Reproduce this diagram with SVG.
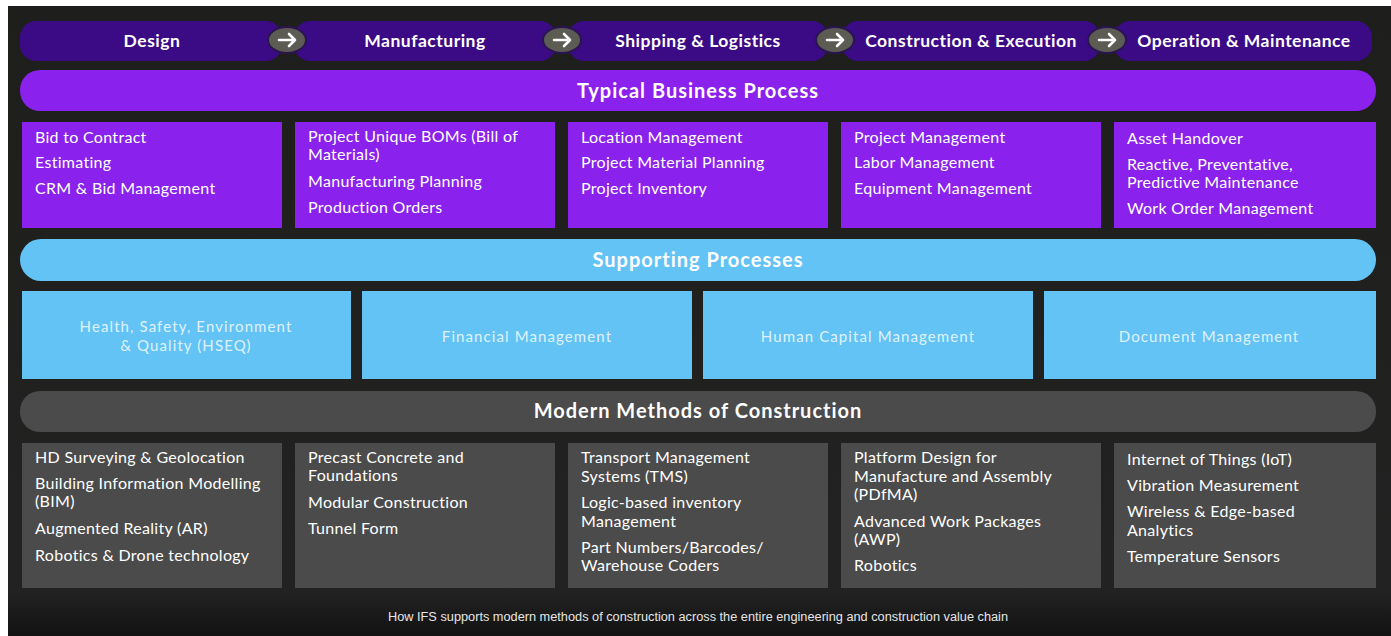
<svg xmlns="http://www.w3.org/2000/svg" width="1391" height="636" viewBox="0 0 1391 636">
  <defs>
    <linearGradient id="bg" x1="0" y1="0" x2="0" y2="1">
      <stop offset="0" stop-color="#1e1e1c"/>
      <stop offset="0.93" stop-color="#222222"/>
      <stop offset="1" stop-color="#121212"/>
    </linearGradient>
    <style>
      .stage { fill: #3a0b84; }
      .stage-t { font-family: "Lato", "Liberation Sans", sans-serif; font-weight: 700; font-size: 17.5px; letter-spacing: 0.5px; fill: #ffffff; text-anchor: middle; }
      .band-t { font-family: "Lato", "Liberation Sans", sans-serif; font-weight: 700; font-size: 20px; letter-spacing: 1px; fill: #ffffff; text-anchor: middle; }
      .purple { fill: #8a21ec; }
      .blue { fill: #63c3f5; }
      .grey { fill: #4b4b4b; }
      .item { font-family: "Lato", "Liberation Sans", sans-serif; font-weight: 400; font-size: 16px; letter-spacing: 0.3px; fill: #ffffff; }
      .item-blue { font-family: "Lato", "Liberation Sans", sans-serif; font-size: 15px; letter-spacing: 1.1px; fill: #ffffff; fill-opacity: 0.8; text-anchor: middle; }
      .caption { font-family: "Liberation Sans", sans-serif; font-size: 12px; fill: #e6e6e6; }
      .arrow-bg { fill: #5c5c54; stroke: #2a1550; stroke-width: 2; }
      .arrow { fill: none; stroke: #ffffff; stroke-width: 2.6; stroke-linecap: round; stroke-linejoin: round; }
    </style>
  </defs>

  <!-- page and dark canvas -->
  <rect x="0" y="0" width="1391" height="636" fill="#ffffff"/>
  <rect x="8" y="6" width="1383" height="630" fill="url(#bg)"/>

  <!-- value chain stages -->
  <g id="stage-design"><rect class="stage" x="20" y="21" width="262" height="40" rx="16"/><text class="stage-t" x="152" y="47">Design</text></g>
  <g id="stage-manufacturing"><rect class="stage" x="294" y="21" width="262" height="40" rx="16"/><text class="stage-t" x="425" y="47">Manufacturing</text></g>
  <g id="stage-shipping"><rect class="stage" x="568" y="21" width="260" height="40" rx="16"/><text class="stage-t" x="698" y="47">Shipping &amp; Logistics</text></g>
  <g id="stage-construction"><rect class="stage" x="842" y="21" width="258" height="40" rx="16"/><text class="stage-t" x="971" y="47">Construction &amp; Execution</text></g>
  <g id="stage-operation"><rect class="stage" x="1114" y="21" width="258" height="40" rx="16"/><text class="stage-t" x="1244" y="47">Operation &amp; Maintenance</text></g>

  <!-- arrows between stages -->
  <g id="connectors">
    <ellipse class="arrow-bg" cx="287" cy="40" rx="19" ry="13"/>
    <path class="arrow" d="M279 40 H295 M289 34 L295 40 L289 46"/>
    <ellipse class="arrow-bg" cx="562" cy="40" rx="19" ry="13"/>
    <path class="arrow" d="M554 40 H570 M564 34 L570 40 L564 46"/>
    <ellipse class="arrow-bg" cx="835" cy="40" rx="19" ry="13"/>
    <path class="arrow" d="M827 40 H843 M837 34 L843 40 L837 46"/>
    <ellipse class="arrow-bg" cx="1107" cy="40" rx="19" ry="13"/>
    <path class="arrow" d="M1099 40 H1115 M1109 34 L1115 40 L1109 46"/>
  </g>

  <!-- Typical Business Process -->
  <g id="band-business"><rect class="purple" x="20" y="70" width="1356" height="41" rx="20"/><text class="band-t" x="698" y="98">Typical Business Process</text></g>

  <g id="bp-design"><rect class="purple" x="22" y="122" width="260" height="106"/>
    <text class="item" x="35" y="143">Bid to Contract</text>
    <text class="item" x="35" y="168">Estimating</text>
    <text class="item" x="35" y="194">CRM &amp; Bid Management</text></g>
  <g id="bp-manufacturing"><rect class="purple" x="295" y="122" width="260" height="106"/>
    <text class="item" x="308" y="142">Project Unique BOMs (Bill of</text>
    <text class="item" x="308" y="160">Materials)</text>
    <text class="item" x="308" y="187">Manufacturing Planning</text>
    <text class="item" x="308" y="213">Production Orders</text></g>
  <g id="bp-shipping"><rect class="purple" x="568" y="122" width="260" height="106"/>
    <text class="item" x="581" y="143">Location Management</text>
    <text class="item" x="581" y="168">Project Material Planning</text>
    <text class="item" x="581" y="194">Project Inventory</text></g>
  <g id="bp-construction"><rect class="purple" x="841" y="122" width="260" height="106"/>
    <text class="item" x="854" y="143">Project Management</text>
    <text class="item" x="854" y="168">Labor Management</text>
    <text class="item" x="854" y="194">Equipment Management</text></g>
  <g id="bp-operation"><rect class="purple" x="1114" y="122" width="262" height="106"/>
    <text class="item" x="1127" y="144">Asset Handover</text>
    <text class="item" x="1127" y="170">Reactive, Preventative,</text>
    <text class="item" x="1127" y="188">Predictive Maintenance</text>
    <text class="item" x="1127" y="214">Work Order Management</text></g>

  <!-- Supporting Processes -->
  <g id="band-supporting"><rect class="blue" x="20" y="239" width="1356" height="42" rx="21"/><text class="band-t" x="698" y="267">Supporting Processes</text></g>

  <g id="sp-hseq"><rect class="blue" x="22" y="291" width="329" height="88"/>
    <text class="item-blue" x="186" y="332">Health, Safety, Environment</text>
    <text class="item-blue" x="186" y="351">&amp; Quality (HSEQ)</text></g>
  <g id="sp-financial"><rect class="blue" x="362" y="291" width="330" height="88"/>
    <text class="item-blue" x="527" y="342">Financial Management</text></g>
  <g id="sp-hcm"><rect class="blue" x="703" y="291" width="330" height="88"/>
    <text class="item-blue" x="868" y="342">Human Capital Management</text></g>
  <g id="sp-document"><rect class="blue" x="1044" y="291" width="332" height="88"/>
    <text class="item-blue" x="1209" y="342">Document Management</text></g>

  <!-- Modern Methods of Construction -->
  <g id="band-mmc"><rect class="grey" x="20" y="391" width="1356" height="41" rx="20"/><text class="band-t" x="698" y="418">Modern Methods of Construction</text></g>

  <g id="mmc-design"><rect class="grey" x="22" y="443" width="260" height="145"/>
    <text class="item" x="35" y="463">HD Surveying &amp; Geolocation</text>
    <text class="item" x="35" y="489">Building Information Modelling</text>
    <text class="item" x="35" y="507">(BIM)</text>
    <text class="item" x="35" y="534">Augmented Reality (AR)</text>
    <text class="item" x="35" y="561">Robotics &amp; Drone technology</text></g>
  <g id="mmc-manufacturing"><rect class="grey" x="295" y="443" width="260" height="145"/>
    <text class="item" x="308" y="463">Precast Concrete and</text>
    <text class="item" x="308" y="481">Foundations</text>
    <text class="item" x="308" y="508">Modular Construction</text>
    <text class="item" x="308" y="534">Tunnel Form</text></g>
  <g id="mmc-shipping"><rect class="grey" x="568" y="443" width="260" height="145"/>
    <text class="item" x="581" y="463">Transport Management</text>
    <text class="item" x="581" y="482">Systems (TMS)</text>
    <text class="item" x="581" y="508">Logic-based inventory</text>
    <text class="item" x="581" y="527">Management</text>
    <text class="item" x="581" y="553">Part Numbers/Barcodes/</text>
    <text class="item" x="581" y="571">Warehouse Coders</text></g>
  <g id="mmc-construction"><rect class="grey" x="841" y="443" width="260" height="145"/>
    <text class="item" x="854" y="463">Platform Design for</text>
    <text class="item" x="854" y="482">Manufacture and Assembly</text>
    <text class="item" x="854" y="500">(PDfMA)</text>
    <text class="item" x="854" y="527">Advanced Work Packages</text>
    <text class="item" x="854" y="545">(AWP)</text>
    <text class="item" x="854" y="571">Robotics</text></g>
  <g id="mmc-operation"><rect class="grey" x="1114" y="443" width="262" height="145"/>
    <text class="item" x="1127" y="465">Internet of Things (IoT)</text>
    <text class="item" x="1127" y="491">Vibration Measurement</text>
    <text class="item" x="1127" y="517">Wireless &amp; Edge-based</text>
    <text class="item" x="1127" y="536">Analytics</text>
    <text class="item" x="1127" y="562">Temperature Sensors</text></g>

  <text class="caption" x="388" y="621" textLength="620" lengthAdjust="spacingAndGlyphs">How IFS supports modern methods of construction across the entire engineering and construction value chain</text>
</svg>
